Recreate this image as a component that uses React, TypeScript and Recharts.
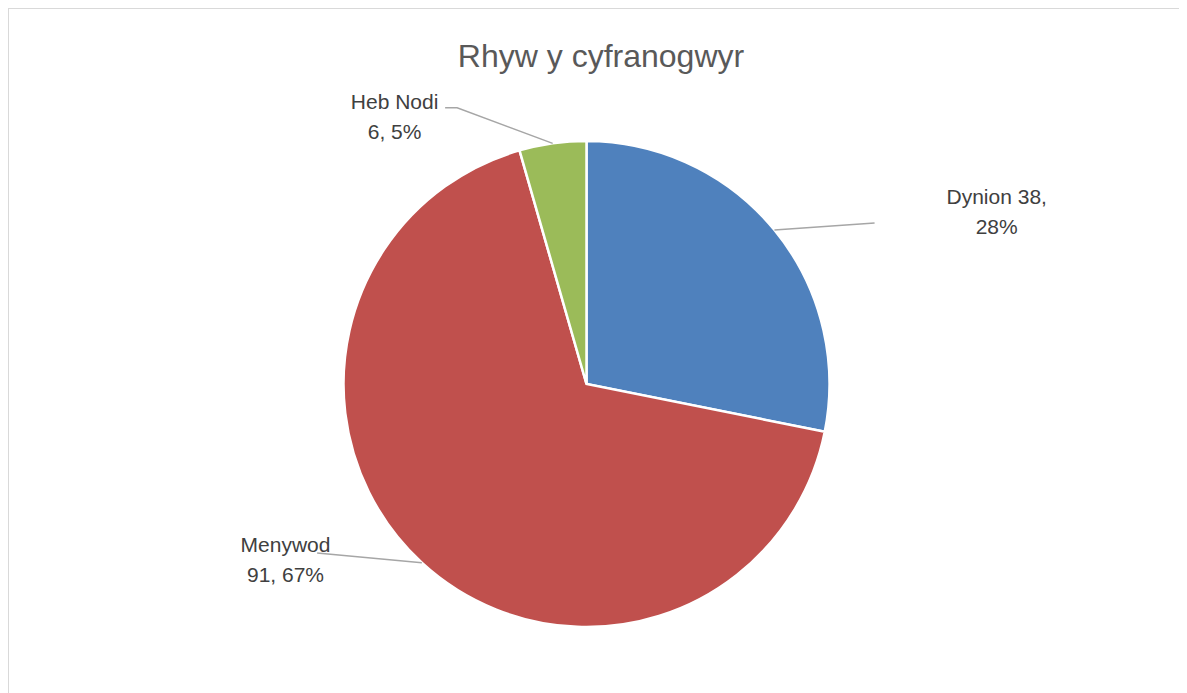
import React from "react";
import { PieChart, Pie, Cell } from "recharts";

const categories = ["Dynion", "Menywod", "Heb Nodi"];
const counts = [38, 91, 6];
const percentLabels = ["28%", "67%", "5%"];
const colors = ["#4F81BD", "#C0504D", "#9BBB59"];
const title = "Rhyw y cyfranogwyr";

const data = categories.map((name, i) => ({ name, value: counts[i], pct: percentLabels[i] }));

// label layout (polar offsets from pie centre: angle in degrees, radius in px)
const labelLayout = [
  { textAngle: 23.7, textR: 448, lineEnd: { a: 29.2, r: 330 }, tail: 0, breakAfterName: false },
  { textAngle: 209.1, textR: 344.5, lineEnd: { a: 212.1, r: 318 }, tail: 0, breakAfterName: true },
  { textAngle: 124.9, textR: 335.4, lineEnd: { a: 115.1, r: 305 }, tail: -12, breakAfterName: true },
];

const RAD = Math.PI / 180;
const polar = (cx: number, cy: number, r: number, a: number) => ({
  x: cx + r * Math.cos(a * RAD),
  y: cy - r * Math.sin(a * RAD),
});

const renderLabel = (props: any) => {
  const { cx, cy, midAngle, outerRadius, index } = props;
  const d = data[index];
  const lay = labelLayout[index];
  const start = polar(cx, cy, outerRadius, midAngle);
  const end = polar(cx, cy, lay.lineEnd.r, lay.lineEnd.a);
  const pts = [start, end];
  if (lay.tail) pts.push({ x: end.x + lay.tail, y: end.y });
  const t = polar(cx, cy, lay.textR, lay.textAngle);
  const line1 = lay.breakAfterName ? d.name : `${d.name} ${d.value},`;
  const line2 = lay.breakAfterName ? `${d.value}, ${d.pct}` : d.pct;
  return (
    <g key={`lbl-${index}`}>
      <polyline
        points={pts.map((p) => `${p.x},${p.y}`).join(" ")}
        fill="none"
        stroke="#A6A6A6"
        strokeWidth={1.5}
      />
      <text
        x={t.x}
        y={t.y}
        textAnchor="middle"
        fill="#404040"
        fontSize={21}
        fontFamily="'Liberation Sans', Arial, sans-serif"
      >
        <tspan x={t.x} y={t.y}>{line1}</tspan>
        <tspan x={t.x} y={t.y + 30}>{line2}</tspan>
      </text>
    </g>
  );
};

export default function App() {
  return (
    <div
      style={{
        position: "relative",
        margin: "-1px 0 0 -1px",
        width: 1180,
        height: 686,
        overflow: "hidden",
        background: "#fff",
      }}
    >
      <div
        style={{
          position: "absolute",
          left: 0,
          top: 0,
          width: 1220,
          height: 720,
          boxSizing: "border-box",
          borderTop: "2px solid #D9D9D9",
          borderLeft: "2px solid #D9D9D9",
        }}
      />
      <div
        style={{
          position: "absolute",
          left: 0,
          top: 33,
          width: 1188,
          textAlign: "center",
          fontFamily: "'Liberation Sans', Arial, sans-serif",
          fontSize: 32,
          lineHeight: "32px",
          color: "#595959",
        }}
      >
        {title}
      </div>
      <div style={{ position: "absolute", left: 0, top: 0 }}>
        <PieChart width={1180} height={686} margin={{ top: 0, right: 0, bottom: 0, left: 0 }}>
          <Pie
            data={data}
            dataKey="value"
            nameKey="name"
            cx={579.5}
            cy={377}
            outerRadius={243}
            startAngle={90}
            endAngle={-270}
            stroke="#FFFFFF"
            strokeWidth={2.5}
            label={renderLabel}
            labelLine={false}
            isAnimationActive={false}
          >
            {data.map((d, i) => (
              <Cell key={d.name} fill={colors[i]} />
            ))}
          </Pie>
        </PieChart>
      </div>
    </div>
  );
}
